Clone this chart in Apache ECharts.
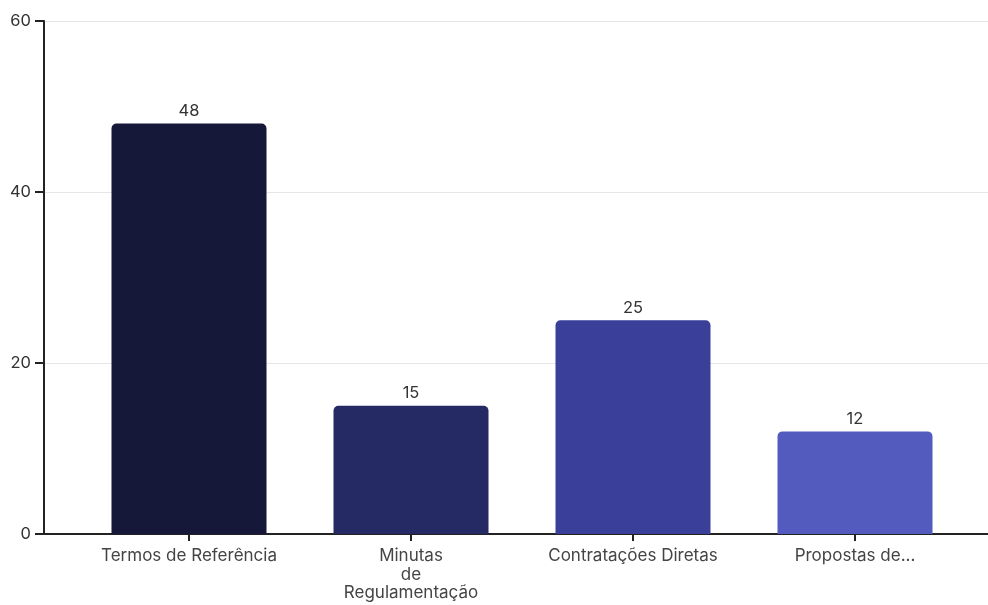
<!DOCTYPE html>
<html>
<head>
<meta charset="utf-8">
<script src="https://cdn.jsdelivr.net/npm/echarts@6/dist/echarts.min.js"></script>
<style>
  html, body { margin: 0; padding: 0; background: #fff; }
  #myChart { width: 988px; height: 605px; }
</style>
</head>
<body>
<div id="myChart"></div>
<script>
// dados do gráfico
const categorias = ["Termos de Referência", "Minutas\nde\nRegulamentação", "Contratações Diretas", "Propostas de..."];
const valores = [48, 15, 25, 12];
const cores = ["#151838", "#252a65", "#3a3f9a", "#535bbf"];
const yTicks = [0, 20, 40, 60];

const fonte = "Inter, 'Noto Sans', sans-serif";

let myChart = echarts.init(document.getElementById("myChart"));

let option = {
  animation: false,
  grid: [
    // grade larga: eixo y, linhas de grade e linha do eixo x
    { left: 44, right: 0, top: 21, bottom: 71 },
    // grade das barras
    { left: 78, right: 22, top: 21, bottom: 71 }
  ],
  xAxis: [
    {
      gridIndex: 0,
      type: "value",
      min: 0,
      max: 1,
      axisLine: { show: true, onZero: false, lineStyle: { color: "#222", width: 2 } },
      axisTick: { show: false },
      axisLabel: { show: false },
      splitLine: { show: false }
    },
    {
      gridIndex: 1,
      type: "category",
      data: categorias,
      axisLine: { show: false },
      axisTick: { show: true, alignWithLabel: true, length: 7, lineStyle: { color: "#222", width: 2 } },
      axisLabel: {
        interval: 0,
        margin: 13,
        color: "#444",
        fontSize: 17,
        fontFamily: fonte,
        lineHeight: 18.5
      }
    }
  ],
  yAxis: [
    {
      gridIndex: 0,
      type: "value",
      min: yTicks[0],
      max: yTicks[yTicks.length - 1],
      interval: 20,
      axisLine: { show: true, lineStyle: { color: "#222", width: 2 } },
      axisTick: { show: true, length: 9, lineStyle: { color: "#222", width: 2 } },
      axisLabel: { color: "#333", fontSize: 16.5, fontFamily: fonte, margin: 13 },
      splitLine: { show: true, lineStyle: { color: "#e6e6e6", width: 1 } }
    },
    {
      gridIndex: 1,
      type: "value",
      min: 0,
      max: 60,
      show: false
    }
  ],
  series: [
    {
      type: "bar",
      xAxisIndex: 1,
      yAxisIndex: 1,
      barWidth: 155,
      data: valores.map((v, i) => ({
        value: v,
        itemStyle: { color: cores[i] }
      })),
      itemStyle: { borderRadius: [5, 5, 0, 0] },
      label: {
        show: true,
        position: "top",
        distance: 4,
        color: "#333",
        fontSize: 16.5,
        fontFamily: fonte
      }
    }
  ]
};

myChart.setOption(option, true);
</script>
</body>
</html>
